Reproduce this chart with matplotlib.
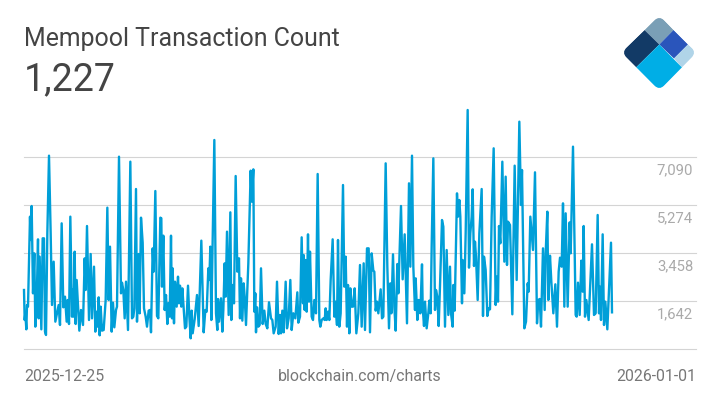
#!/usr/bin/env python3

import matplotlib
matplotlib.use('Agg')
import matplotlib.pyplot as plt
from matplotlib.patches import PathPatch, Polygon
from matplotlib.path import Path
from matplotlib.transforms import blended_transform_factory

plt.rcParams['font.family'] = ['Roboto', 'DejaVu Sans']

TITLE = 'Mempool Transaction Count'
LATEST = '1,227'
DATE_START = '2025-12-25'
DATE_END = '2026-01-01'
SOURCE = 'blockchain.com/charts'

# y axis labels as drawn on the chart
GRID_VALUES = [1642, 3458, 5274, 7090]
GRID_LABELS = ['1,642', '3,458', '5,274', '7,090']

# sample position, counted in 5 minute steps from the start of the axis
steps = [
    0, 2, 4, 7, 9, 12, 18, 20, 23, 27, 31, 34, 38, 42, 44, 47, 52, 56, 60, 63,
    66, 70, 75, 80, 84, 89, 94, 100, 104, 108, 113, 118, 123, 128, 131, 135, 139, 144, 146, 149,
    152, 155, 158, 166, 171, 177, 182, 185, 189, 195, 200, 204, 210, 214, 218, 221, 224, 227, 230, 234,
    239, 245, 250, 254, 258, 263, 267, 271, 276, 279, 285, 291, 294, 298, 302, 306, 312, 319, 324, 328,
    331, 336, 339, 344, 347, 351, 356, 360, 365, 369, 374, 378, 381, 386, 389, 394, 399, 403, 409, 412,
    414, 418, 422, 426, 430, 433, 437, 441, 444, 446, 450, 453, 458, 462, 465, 468, 472, 475, 483, 487,
    492, 496, 500, 503, 506, 512, 519, 524, 532, 539, 544, 548, 553, 556, 559, 562, 571, 576, 580, 582,
    585, 591, 595, 598, 602, 605, 609, 614, 619, 622, 626, 630, 635, 640, 645, 648, 651, 655, 659, 662,
    666, 673, 680, 683, 688, 691, 694, 696, 699, 703, 707, 711, 716, 721, 725, 730, 735, 741, 745, 749,
    755, 759, 764, 768, 771, 775, 779, 785, 789, 794, 799, 803, 808, 814, 820, 823, 828, 833, 837, 839,
    842, 845, 848, 852, 855, 858, 863, 867, 871, 876, 881, 886, 889, 893, 898, 902, 905, 908, 912, 916,
    920, 926, 931, 934, 939, 942, 946, 950, 957, 961, 965, 969, 972, 976, 979, 983, 987, 992, 997, 1003,
    1008, 1013, 1019, 1023, 1029, 1034, 1038, 1043, 1048, 1051, 1055, 1059, 1063, 1070, 1074, 1078, 1085, 1090, 1095, 1099,
    1102, 1107, 1111, 1115, 1120, 1123, 1131, 1136, 1142, 1149, 1155, 1159, 1164, 1168, 1173, 1175, 1180, 1184, 1189, 1194,
    1196, 1200, 1203, 1208, 1213, 1216, 1220, 1223, 1228, 1233, 1236, 1240, 1244, 1248, 1254, 1258, 1263, 1268, 1273, 1278,
    1281, 1286, 1288, 1292, 1299, 1302, 1306, 1309, 1314, 1316, 1321, 1325, 1331, 1335, 1339, 1343, 1346, 1350, 1353, 1356,
    1361, 1366, 1373, 1377, 1380, 1385, 1390, 1394, 1398, 1403, 1409, 1415, 1418, 1422, 1425, 1429, 1435, 1441, 1445, 1449,
    1452, 1458, 1465, 1472, 1478, 1486, 1491, 1494, 1501, 1506, 1511, 1514, 1519, 1523, 1527, 1533, 1539, 1543, 1547, 1551,
    1557, 1562, 1565, 1570, 1573, 1578, 1582, 1588, 1594, 1599, 1604, 1608, 1613, 1617, 1621, 1625, 1631, 1637, 1640, 1647,
    1655, 1658, 1662, 1667, 1672, 1676, 1679, 1683, 1687, 1694, 1699, 1704, 1710, 1715, 1721, 1725, 1728, 1731, 1736, 1740,
    1744, 1750, 1761, 1764,
]

tx_counts = [
    2058, 923, 1176, 570, 1491, 1428, 4833, 3950, 5236, 1932, 3445, 671, 1554, 3975, 986, 3319, 570, 4013, 4013, 482,
    356, 4202, 7140, 4202, 1491, 3130, 860, 1238, 1491, 734, 4580, 1403, 1806, 860, 1680, 772, 4833, 1049, 2083, 1049,
    3508, 772, 2437, 520, 1302, 734, 3256, 2058, 4479, 923, 3420, 986, 2941, 482, 1238, 671, 1781, 343, 1428, 520,
    545, 1680, 5173, 1680, 3698, 482, 1579, 646, 1302, 1428, 7102, 1932, 2336, 2058, 986, 2373, 545, 6913, 986, 1049,
    1365, 5879, 860, 3420, 1176, 4795, 3849, 1365, 1049, 671, 1277, 1302, 457, 3634, 2752, 5803, 1075, 986, 4795, 4770,
    2184, 4114, 1302, 1869, 772, 1554, 1049, 4114, 986, 2878, 797, 2373, 1428, 2563, 1554, 2222, 1428, 2121, 608, 671,
    2222, 1049, 230, 1277, 419, 949, 1869, 696, 3925, 457, 1302, 1238, 2878, 2437, 3698, 923, 7733, 1176, 545, 1718,
    860, 1743, 482, 1302, 3067, 1806, 4265, 1113, 4996, 923, 2248, 1554, 6371, 2752, 3256, 986, 2500, 898, 2310, 1806,
    734, 3067, 6573, 5400, 6623, 1238, 1932, 457, 1403, 671, 734, 2878, 772, 1277, 772, 608, 1592, 986, 923, 419,
    671, 2373, 394, 1113, 419, 1277, 457, 2373, 608, 986, 2437, 545, 1176, 986, 1970, 822, 1049, 4051, 1554, 3382,
    1302, 3193, 1238, 4164, 1617, 3508, 1049, 923, 1680, 1176, 6447, 923, 671, 923, 986, 923, 1365, 923, 1238, 923,
    2437, 3975, 1049, 1617, 734, 3950, 671, 1176, 6030, 2184, 3319, 671, 2248, 419, 2121, 1428, 1428, 2121, 419, 1176,
    3004, 671, 3067, 545, 3634, 3634, 457, 3445, 2790, 2752, 1277, 1617, 1176, 2083, 986, 1049, 6850, 2941, 608, 2310,
    1176, 3408, 1428, 520, 3042, 1932, 5236, 2462, 4164, 797, 6094, 2941, 7140, 2941, 1302, 2500, 923, 1680, 1176, 3029,
    1428, 696, 1617, 608, 1176, 1655, 1176, 3698, 7039, 1302, 2058, 1806, 696, 2210, 4706, 4454, 671, 3571, 1113, 2941,
    1176, 671, 2248, 1277, 5715, 4833, 5463, 4833, 1554, 3193, 1932, 4202, 8868, 2903, 4202, 4833, 5867, 2966, 3887, 3319,
    1680, 4202, 5879, 1075, 3319, 2815, 1075, 1365, 1327, 4833, 7418, 1491, 2563, 1617, 4479, 3824, 6913, 3130, 6346, 3004,
    4643, 4517, 1138, 6762, 2437, 8426, 5274, 6598, 608, 860, 2310, 1995, 4833, 4202, 3571, 6510, 797, 1680, 1718, 671,
    3634, 1302, 3445, 5022, 1680, 3357, 2373, 1176, 2273, 671, 2752, 3281, 2941, 5337, 1428, 4959, 1428, 4618, 3445, 7481,
    1113, 1049, 2336, 1113, 3168, 1995, 4479, 1049, 1680, 923, 2373, 3786, 1113, 1176, 4896, 1176, 2184, 923, 4164, 734,
    1617, 570, 3849, 1213,
]

W, H = 720, 405

fig = plt.figure(figsize=(W / 100, H / 100), dpi=100)

# plot area spans x 24..696 and y 100..349 in picture pixels
ax = fig.add_axes([24 / W, 1 - 349 / H, 672 / W, 249 / H])
ax.set_xlim(0, 2016)
ax.set_ylim(-174, 9246)
ax.patch.set_alpha(0)
for side in ax.spines.values():
    side.set_visible(False)
ax.set_xticks([])
ax.set_yticks([-174] + GRID_VALUES)
ax.set_yticklabels([])
ax.tick_params(axis='y', length=0)
ax.yaxis.grid(True, color='#d4d4d4', lw=0.8)
for gridline in ax.get_ygridlines():
    gridline.set_clip_on(False)
ax.set_axisbelow(True)

ax.plot(steps, tx_counts, color='#009fd8', lw=1.7, clip_on=False)

# the value labels hang just under their grid lines, inside the right edge
label_trans = blended_transform_factory(ax.transAxes, ax.transData)
for val, label in zip(GRID_VALUES, GRID_LABELS):
    ax.annotate(label, xy=(1, val), xycoords=label_trans, xytext=(-2.0, -9.4),
                textcoords='offset points', ha='right', va='center', fontsize=10.7, color='#aaaaaa')

fig.text(24 / W, 1 - 39 / H, TITLE, fontsize=17.9, color='#444444', va='center', ha='left')
fig.text(24 / W, 1 - 79.5 / H, LATEST, fontsize=27, color='#444444', va='center', ha='left')
fig.text(24 / W, 1 - 376.5 / H, DATE_START, fontsize=11.4, color='#777777', va='center', ha='left')
fig.text(360 / W, 1 - 376.5 / H, SOURCE, fontsize=11.4, color='#777777', va='center', ha='center')
fig.text(696 / W, 1 - 376.5 / H, DATE_END, fontsize=11.4, color='#777777', va='center', ha='right')

# logo, drawn in picture pixels on a transparent overlay
logo = fig.add_axes([0, 0, 1, 1])
logo.set_xlim(0, W)
logo.set_ylim(H, 0)
logo.axis('off')

top, right, bottom, left = (659.3, 15.5), (696.5, 52.5), (659.3, 90.5), (621.5, 52.5)


def towards(a, b, d):
    length = ((b[0] - a[0]) ** 2 + (b[1] - a[1]) ** 2) ** 0.5
    return (a[0] + (b[0] - a[0]) * d / length, a[1] + (b[1] - a[1]) * d / length)


# outer diamond with rounded corners, used to clip the pieces
corners = [top, right, bottom, left]
verts, codes = [], []
for i, c in enumerate(corners):
    prev_c, next_c = corners[i - 1], corners[(i + 1) % 4]
    verts += [towards(c, prev_c, 7), c, towards(c, next_c, 7)]
    codes += [Path.MOVETO if i == 0 else Path.LINETO, Path.CURVE3, Path.CURVE3]
verts.append(verts[0])
codes.append(Path.CLOSEPOLY)
outline = PathPatch(Path(verts, codes), facecolor='none', edgecolor='none')
logo.add_patch(outline)

pieces = [
    ('#7a9fb6', [(659.3, 15), (673.5, 30), (659.3, 44.5), (644.5, 30)]),
    ('#123a66', [(644.5, 30), (659.3, 44.5), (636, 67.5), (621, 52.5)]),
    ('#2a55bb', [(673.5, 30), (688, 44.5), (674, 58.5), (659.3, 44.5)]),
    ('#b0d4e8', [(688, 44.5), (697, 52.5), (682.5, 68), (674, 58.5)]),
    ('#00aee6', [(659.3, 44.5), (682.5, 68), (659.3, 91), (636, 67.5)]),
]
for colour, pts in pieces:
    piece = Polygon(pts, closed=True, facecolor=colour, edgecolor='none')
    logo.add_patch(piece)
    piece.set_clip_path(outline)

fig.savefig('out.png', dpi=100, facecolor='white')
plt.close(fig)
